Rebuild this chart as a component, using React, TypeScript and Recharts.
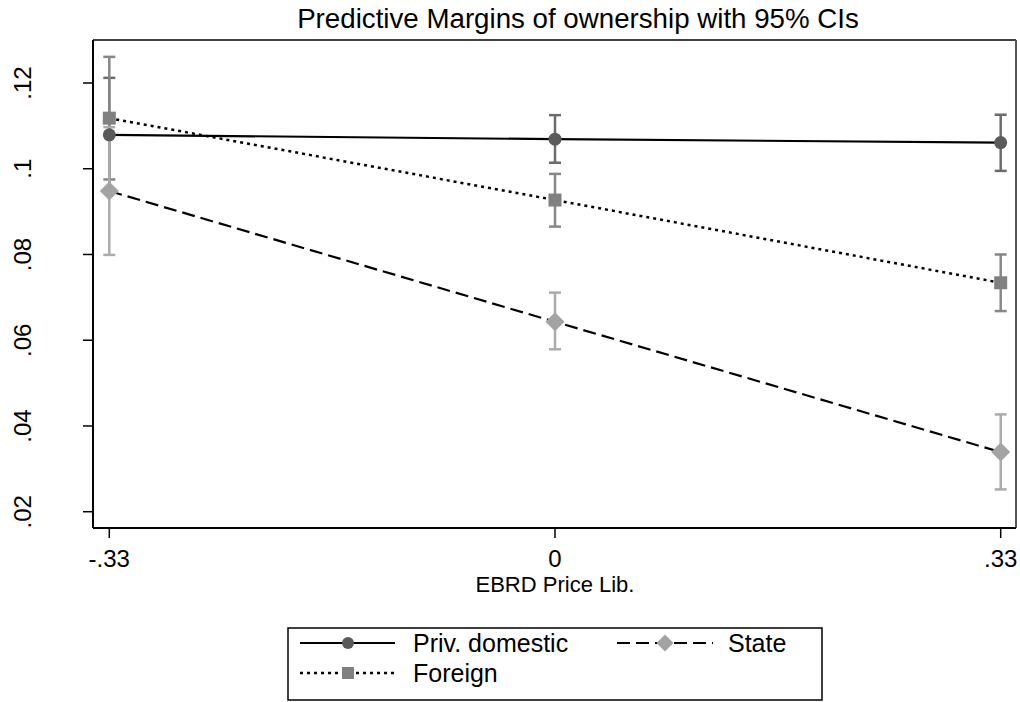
import React from 'react';
import { ComposedChart, Line, XAxis, YAxis, ErrorBar, ReferenceLine, Legend } from 'recharts';

const xValues = [-0.33, 0, 0.33];
const xTickLabels = ['-.33', '0', '.33'];
const yTicks = [0.02, 0.04, 0.06, 0.08, 0.1, 0.12];
const yTickLabels = ['.02', '.04', '.06', '.08', '.1', '.12'];

const privMargin = [0.1079, 0.1069, 0.1061];
const privLow = [0.0946, 0.1014, 0.0995];
const privHigh = [0.1212, 0.1125, 0.1126];

const foreignMargin = [0.1118, 0.0927, 0.0734];
const foreignLow = [0.0975, 0.0865, 0.0668];
const foreignHigh = [0.1261, 0.0988, 0.08];

const stateMargin = [0.0948, 0.0643, 0.0339];
const stateLow = [0.0799, 0.0579, 0.0252];
const stateHigh = [0.1097, 0.0711, 0.0427];

const X_DOMAIN: [number, number] = [-0.34207, 0.34133];
const Y_DOMAIN: [number, number] = [0.0162, 0.13003];

const data = xValues.map((x, i) => ({
  x,
  priv: privMargin[i],
  privErr: [privMargin[i] - privLow[i], privHigh[i] - privMargin[i]],
  foreign: foreignMargin[i],
  foreignErr: [foreignMargin[i] - foreignLow[i], foreignHigh[i] - foreignMargin[i]],
  state: stateMargin[i],
  stateErr: [stateMargin[i] - stateLow[i], stateHigh[i] - stateMargin[i]],
}));

const FONT = 'Arial, "Liberation Sans", Helvetica, sans-serif';

const C_PRIV = '#5a5a5a';
const C_PRIV_BAR = '#6b6b6b';
const C_FOR = '#808080';
const C_FOR_BAR = '#878787';
const C_STATE = '#a3a3a3';
const C_STATE_BAR = '#ababab';

const CircleDot = (props: any) => {
  const { cx, cy } = props;
  if (cx == null || cy == null) return null;
  return <circle cx={cx} cy={cy} r={6.5} fill={C_PRIV} stroke="none" />;
};
const SquareDot = (props: any) => {
  const { cx, cy } = props;
  if (cx == null || cy == null) return null;
  return <rect x={cx - 6.5} y={cy - 6.5} width={13} height={13} fill={C_FOR} stroke="none" />;
};
const DiamondDot = (props: any) => {
  const { cx, cy } = props;
  if (cx == null || cy == null) return null;
  const r = 9.5;
  return (
    <polygon
      points={`${cx},${cy - r} ${cx + r},${cy} ${cx},${cy + r} ${cx - r},${cy}`}
      fill={C_STATE}
      stroke="none"
    />
  );
};

const XTick = (props: any) => {
  const { x, payload } = props;
  const idx = xValues.indexOf(payload.value);
  return (
    <text x={x} y={567} textAnchor="middle" fontSize={24} fontFamily={FONT} fill="#000">
      {idx >= 0 ? xTickLabels[idx] : ''}
    </text>
  );
};

const YTick = (props: any) => {
  const { y, payload } = props;
  const idx = yTicks.findIndex((t) => Math.abs(t - payload.value) < 1e-9);
  const bx = 31;
  return (
    <text
      x={bx}
      y={y}
      transform={`rotate(-90, ${bx}, ${y})`}
      textAnchor="middle"
      fontSize={24}
      fontFamily={FONT}
      fill="#000"
    >
      {idx >= 0 ? yTickLabels[idx] : ''}
    </text>
  );
};

const LegendContent = () => (
  <svg width={537} height={75} style={{ display: 'block' }}>
    <rect x={1} y={1} width={534} height={72} fill="#fff" stroke="#000" strokeWidth={1.5} />
    <line x1={13} y1={16} x2={108} y2={16} stroke="#000" strokeWidth={2.2} />
    <circle cx={61} cy={16} r={6} fill={C_PRIV} />
    <text x={126} y={16} dominantBaseline="central" fontSize={25} fontFamily={FONT} fill="#000">
      Priv. domestic
    </text>
    <line x1={330} y1={16} x2={426} y2={16} stroke="#000" strokeWidth={2.2} strokeDasharray="13 6" />
    <polygon points={`378,7.5 386.5,16 378,24.5 369.5,16`} fill={C_STATE} />
    <text x={441} y={16} dominantBaseline="central" fontSize={25} fontFamily={FONT} fill="#000">
      State
    </text>
    <line x1={13} y1={46} x2={108} y2={46} stroke="#000" strokeWidth={2.5} strokeDasharray="3 4" />
    <rect x={55} y={40} width={12} height={12} fill={C_FOR} />
    <text x={126} y={46} dominantBaseline="central" fontSize={25} fontFamily={FONT} fill="#000">
      Foreign
    </text>
  </svg>
);

export default function App() {
  return (
    <div style={{ position: 'relative', width: 1020, height: 702, background: '#fff', fontFamily: FONT }}>
      <style>{`body{margin:0;background:#fff;}`}</style>
      <div
        style={{
          position: 'absolute',
          left: 0,
          top: 0,
          width: 1020,
          textAlign: 'center',
          fontSize: 27.7,
          lineHeight: '28px',
          paddingTop: 5,
          paddingLeft: 136,
          boxSizing: 'border-box',
          fontFamily: FONT,
          color: '#000',
          zIndex: 2,
          pointerEvents: 'none',
          whiteSpace: 'nowrap',
        }}
      >
        Predictive Margins of ownership with 95% CIs
      </div>
      <ComposedChart
        width={1020}
        height={702}
        data={data}
        margin={{ top: 40, right: 4, left: 13, bottom: 134 }}
      >
        <XAxis
          type="number"
          dataKey="x"
          domain={X_DOMAIN}
          allowDataOverflow
          ticks={xValues}
          tick={<XTick />}
          tickSize={10}
          height={40}
          axisLine={{ stroke: '#000', strokeWidth: 2 }}
          tickLine={{ stroke: '#000', strokeWidth: 1.5 }}
          label={{
            content: () => (
              <text x={555} y={592} textAnchor="middle" fontSize={22} fontFamily={FONT} fill="#000">
                EBRD Price Lib.
              </text>
            ),
          }}
        />
        <YAxis
          type="number"
          domain={Y_DOMAIN}
          allowDataOverflow
          ticks={yTicks}
          tick={<YTick />}
          tickSize={10}
          width={80}
          axisLine={{ stroke: '#000', strokeWidth: 2 }}
          tickLine={{ stroke: '#000', strokeWidth: 1.5 }}
        />
        <ReferenceLine y={Y_DOMAIN[1]} stroke="#000" strokeWidth={1.5} ifOverflow="visible" />
        <ReferenceLine x={X_DOMAIN[1]} stroke="#555" strokeWidth={2} ifOverflow="visible" />

        <Line dataKey="priv" stroke="none" dot={false} activeDot={false} legendType="none" isAnimationActive={false}>
          <ErrorBar dataKey="privErr" direction="y" width={6} strokeWidth={2.5} stroke={C_PRIV_BAR} isAnimationActive={false} />
        </Line>
        <Line dataKey="foreign" stroke="none" dot={false} activeDot={false} legendType="none" isAnimationActive={false}>
          <ErrorBar dataKey="foreignErr" direction="y" width={6} strokeWidth={2.5} stroke={C_FOR_BAR} isAnimationActive={false} />
        </Line>
        <Line dataKey="state" stroke="none" dot={false} activeDot={false} legendType="none" isAnimationActive={false}>
          <ErrorBar dataKey="stateErr" direction="y" width={6} strokeWidth={2.5} stroke={C_STATE_BAR} isAnimationActive={false} />
        </Line>

        <Line
          dataKey="priv"
          name="Priv. domestic"
          stroke="#000"
          strokeWidth={2.2}
          dot={<CircleDot />}
          activeDot={false}
          isAnimationActive={false}
        />
        <Line
          dataKey="foreign"
          name="Foreign"
          stroke="#000"
          strokeWidth={2.5}
          strokeDasharray="3 4"
          dot={<SquareDot />}
          activeDot={false}
          isAnimationActive={false}
        />
        <Line
          dataKey="state"
          name="State"
          stroke="#000"
          strokeWidth={2.2}
          strokeDasharray="13 6"
          dot={<DiamondDot />}
          activeDot={false}
          isAnimationActive={false}
        />
        <Legend
          layout="vertical"
          align="center"
          verticalAlign="middle"
          content={<LegendContent />}
          wrapperStyle={{ position: 'absolute', left: 287, top: 627, width: 537, height: 75 }}
        />
      </ComposedChart>
    </div>
  );
}
